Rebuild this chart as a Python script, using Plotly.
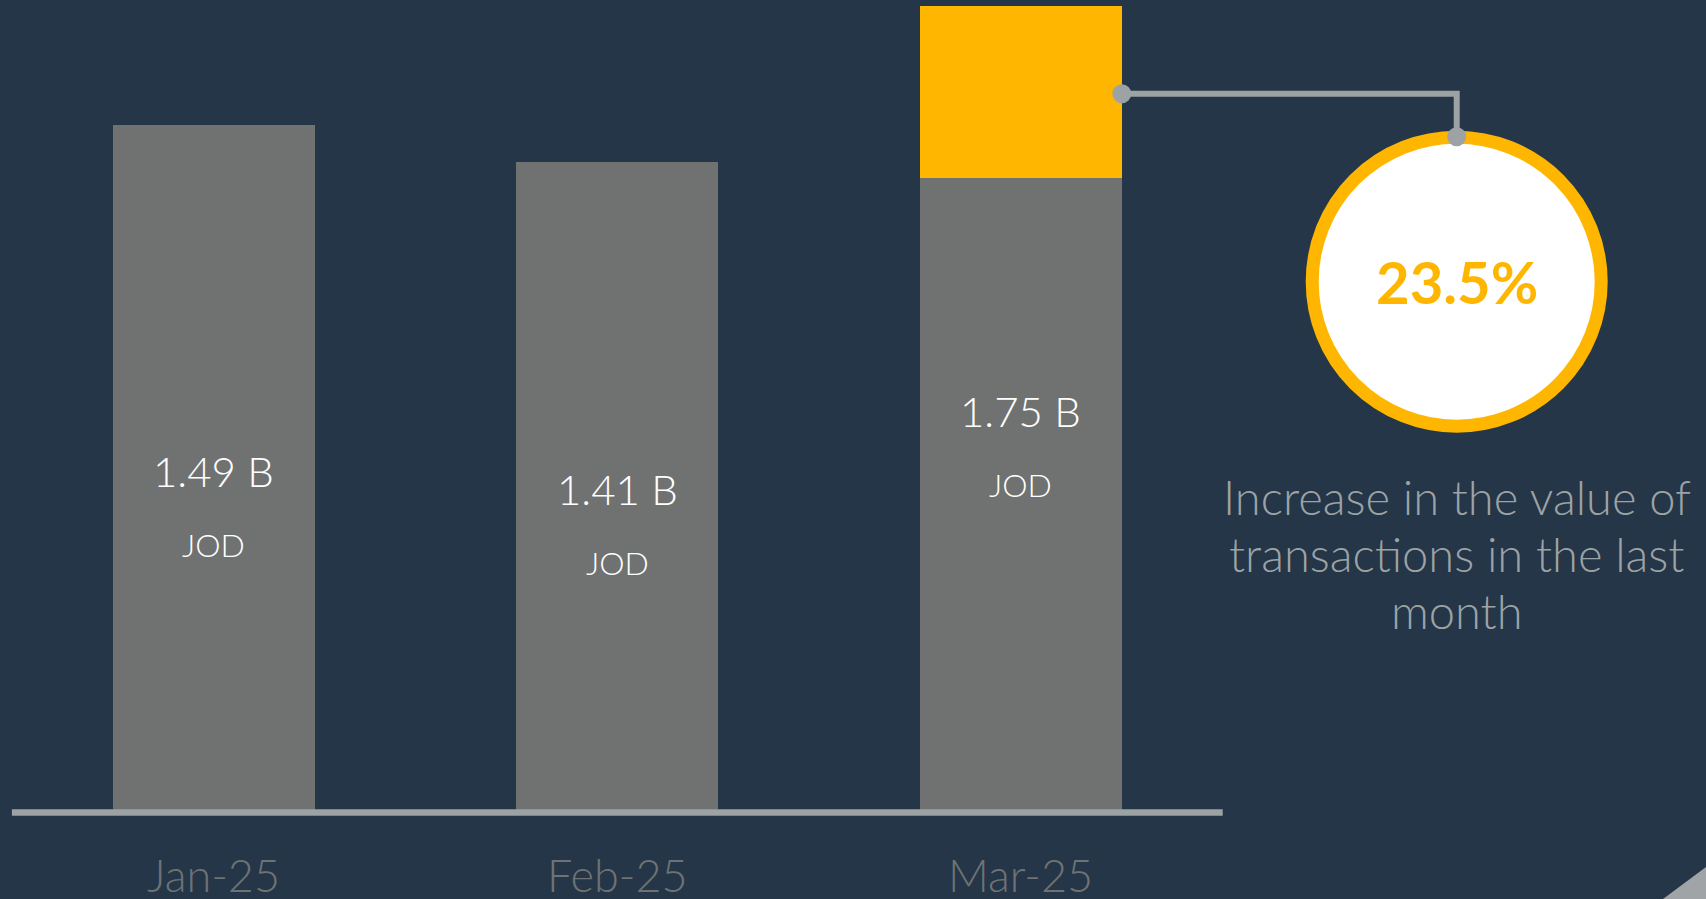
import plotly.graph_objects as go

# ---- data -------------------------------------------------------------
months = ["Jan-25", "Feb-25", "Mar-25"]
totals = [1.49, 1.41, 1.75]          # value of transactions, billions JOD
base_part = [1.49, 1.41, 1.375]      # grey portion of each bar
growth_part = [0, 0, 0.375]          # highlighted growth on the latest month
unit_label = "JOD"
growth_pct = "23.5%"
caption_lines = ["Increase in the value of", "transactions in the last", "month"]

# ---- page geometry ------------------------------------------------------
W, H = 1706, 899
BG = "#243647"
BAR_GREY = "#707271"
YELLOW = "#FFB600"
LINE_GREY = "#9da2a5"
LABEL_GREY = "#6e7275"
FONT = "Lato"

BASELINE_PX = 810        # pixel row of the zero line
PX_PER_UNIT = 459.7      # vertical pixels per billion
X0_PX = 213.7            # pixel column of the first category
PX_PER_CAT = 403.6       # spacing between categories
BAR_W = 0.5


def px(x):
    return x / W


def py(y):
    return 1 - y / H


fig = go.Figure()
fig.add_bar(x=months, y=base_part, width=BAR_W, marker=dict(color=BAR_GREY, line=dict(width=0)),
            hoverinfo="skip")
fig.add_bar(x=months, y=growth_part, width=BAR_W, marker=dict(color=YELLOW, line=dict(width=0)),
            hoverinfo="skip")

annotations = []
for m, v in zip(months, totals):
    annotations.append(dict(x=m, y=v / 2, xref="x", yref="y", text=f"{v:.2f} B",
                            showarrow=False, yshift=-3, xanchor="center", yanchor="middle",
                            font=dict(family=FONT, size=42, color="white", weight=300)))
    annotations.append(dict(x=m, y=v / 2, xref="x", yref="y", text=unit_label,
                            showarrow=False, yshift=-77, xanchor="center", yanchor="middle",
                            font=dict(family=FONT, size=32, color="white", weight=300)))
    # month label under the baseline
    annotations.append(dict(x=m, y=py(875), xref="x", yref="paper", text=m,
                            showarrow=False, xanchor="center", yanchor="middle",
                            font=dict(family=FONT, size=45, color=LABEL_GREY, weight=300)))

# growth badge
CX, CY, R_OUT, RING = 1456.7, 281.7, 151, 13
annotations.append(dict(x=px(CX), y=py(CY), xref="paper", yref="paper", text=f"<b>{growth_pct}</b>",
                        showarrow=False, xanchor="center", yanchor="middle",
                        font=dict(family=FONT, size=58, color=YELLOW)))
for i, line in enumerate(caption_lines):
    annotations.append(dict(x=px(CX), y=py(497 + 57 * i), xref="paper", yref="paper", text=line,
                            showarrow=False, xanchor="center", yanchor="middle",
                            font=dict(family=FONT, size=47, color=LINE_GREY, weight=300)))

r_path = R_OUT - RING / 2
start_x_px = X0_PX + PX_PER_CAT * (2 + BAR_W / 2)
conn_y = 93.7
dot_r = 9.5
top_dot_y = CY - R_OUT + 6
shapes = [
    # baseline
    dict(type="line", xref="x", yref="paper", x0=-0.5, x1=2.5, y0=py(812.5), y1=py(812.5),
         line=dict(color=LINE_GREY, width=6.5), layer="above"),
    # ring
    dict(type="circle", xref="paper", yref="paper",
         x0=px(CX - r_path), x1=px(CX + r_path), y0=py(CY + r_path), y1=py(CY - r_path),
         fillcolor="white", line=dict(color=YELLOW, width=RING)),
    # connector
    dict(type="path", xref="paper", yref="paper",
         path=f"M {px(start_x_px)},{py(conn_y)} L {px(CX)},{py(conn_y)} L {px(CX)},{py(top_dot_y)}",
         line=dict(color=LINE_GREY, width=6)),
    dict(type="circle", xref="paper", yref="paper",
         x0=px(start_x_px - dot_r), x1=px(start_x_px + dot_r),
         y0=py(conn_y + dot_r), y1=py(conn_y - dot_r),
         fillcolor=LINE_GREY, line=dict(width=0)),
    dict(type="circle", xref="paper", yref="paper",
         x0=px(CX - dot_r), x1=px(CX + dot_r),
         y0=py(top_dot_y + dot_r), y1=py(top_dot_y - dot_r),
         fillcolor=LINE_GREY, line=dict(width=0)),
    # corner accent
    dict(type="path", xref="paper", yref="paper",
         path=f"M {px(1663)},{py(899)} L {px(1706)},{py(867)} L {px(1706)},{py(899)} Z",
         fillcolor="#a0a4a7", line=dict(width=0)),
]

fig.update_layout(
    width=W, height=H,
    margin=dict(l=0, r=0, t=0, b=0),
    paper_bgcolor=BG, plot_bgcolor=BG,
    barmode="stack", bargap=0, showlegend=False,
    xaxis=dict(range=[-X0_PX / PX_PER_CAT, (W - X0_PX) / PX_PER_CAT], visible=False, fixedrange=True),
    yaxis=dict(range=[-(H - BASELINE_PX) / PX_PER_UNIT, BASELINE_PX / PX_PER_UNIT],
               visible=False, fixedrange=True),
    annotations=annotations, shapes=shapes, hovermode=False,
)

fig.write_html("out.html", config={"displayModeBar": False})
